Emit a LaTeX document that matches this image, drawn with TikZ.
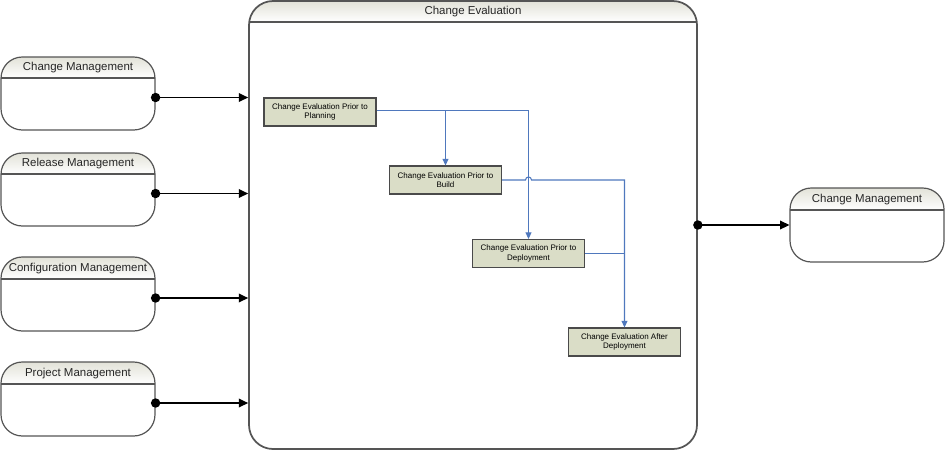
\documentclass[tikz,border=0pt]{standalone}
\usepackage{fontspec}
\setmainfont{Liberation Sans}
\usetikzlibrary{arrows.meta,fit,calc}
\definecolor{hdrtop}{HTML}{E2E2D8}
\definecolor{boxline}{HTML}{555555}
\definecolor{bigline}{HTML}{333333}
\definecolor{stepfill}{HTML}{DADDC7}
\definecolor{stepline}{HTML}{4A4A4A}
\definecolor{flowblue}{HTML}{4F78BD}
\tikzset{
  titletext/.style={font=\fontsize{8.6}{10}\selectfont, text=black!85, inner sep=0pt},
  stepbox/.style={draw=stepline, fill=stepfill, line width=0.8pt,
    minimum width=84pt, minimum height=21pt, align=center, inner sep=1pt,
    font=\fontsize{6}{7.2}\selectfont},
  conn/.style={line width=1.1pt, {Circle[length=7pt]}-{Triangle[length=7pt,width=6.5pt]}, shorten <=-3.5pt},
  flow/.style={draw=flowblue, line width=0.8pt},
  flowarrow/.style={flow, -{Triangle[length=5pt,width=4.5pt]}}
}
% name, x1, y1, x2, y2, header line y, title, radius, border width
\newcommand\headedbox[9]{%
  \begin{scope}
    \clip[rounded corners=#8] (#2,#3) rectangle (#4,#5);
    \shade[top color=hdrtop, bottom color=white] (#2,#3) rectangle (#4,#6);
  \end{scope}
  \node[fit={(#2,#3)(#4,#5)}, inner sep=0pt, draw=boxline, line width=#9, rounded corners=#8] (#1) {};
  \draw[draw=boxline, line width=#9] (#2,#6) -- (#4,#6);
  \node[titletext] (#1-t) at ({(#2+#4)/2},{(#3+#6)/2+0.5}) {#7};
}
\begin{document}
\begin{tikzpicture}[x=0.75pt,y=-0.75pt]
\useasboundingbox (0,0) rectangle (945,451);

% big container
\headedbox{ce}{249}{1}{697}{449}{22}{Change Evaluation}{18pt}{1.3pt}

% left boxes
\headedbox{cm}{1}{57}{155}{130}{78}{Change Management}{16pt}{0.9pt}
\headedbox{rm}{1}{153}{155}{226}{174}{Release Management}{16pt}{0.9pt}
\headedbox{cfg}{1}{257}{155}{331}{279}{Configuration Management}{16pt}{0.9pt}
\headedbox{pm}{1}{362}{155}{436}{384}{Project Management}{16pt}{0.9pt}

% right box
\headedbox{out}{790}{188}{944}{262}{210}{Change Management}{16pt}{0.9pt}

% connectors
\draw[conn] ([yshift=-3pt]cm.east) -- ([yshift=-3pt]cm.east -| ce.west);
\draw[conn] ([yshift=-3pt]rm.east) -- ([yshift=-3pt]rm.east -| ce.west);
\draw[conn] ([yshift=-3pt]cfg.east) -- ([yshift=-3pt]cfg.east -| ce.west);
\draw[conn] ([yshift=-3pt]pm.east) -- ([yshift=-3pt]pm.east -| ce.west);
\draw[conn] (ce.east |- out.west) -- (out.west);

% steps
\node[stepbox] (s1) at (320,112) {Change Evaluation Prior to\\Planning};
\node[stepbox] (s2) at (445.5,180) {Change Evaluation Prior to\\Build};
\node[stepbox] (s3) at (528.5,253.5) {Change Evaluation Prior to\\Deployment};
\node[stepbox] (s4) at (624.5,342) {Change Evaluation After\\Deployment};

% flow lines
\draw[flowarrow] ([yshift=1pt]s1.east) -- ([yshift=1pt]s1.east -| s3.north) -- (s3.north);
\draw[flowarrow] ([yshift=1pt]s1.east -| s2.north) -- (s2.north);
\coordinate (hopa) at ($(s2.east -| s3.north)+(-3,0)$);
\coordinate (hopb) at ($(s2.east -| s3.north)+(3,0)$);
\draw[flowarrow] (s2.east) -- (hopa) .. controls ($(hopa)+(0,-4)$) and ($(hopb)+(0,-4)$) .. (hopb)
  -- (s2.east -| s4.north) -- (s4.north);
\draw[flow] (s3.east) -- (s3.east -| s4.north);
\end{tikzpicture}
\end{document}
